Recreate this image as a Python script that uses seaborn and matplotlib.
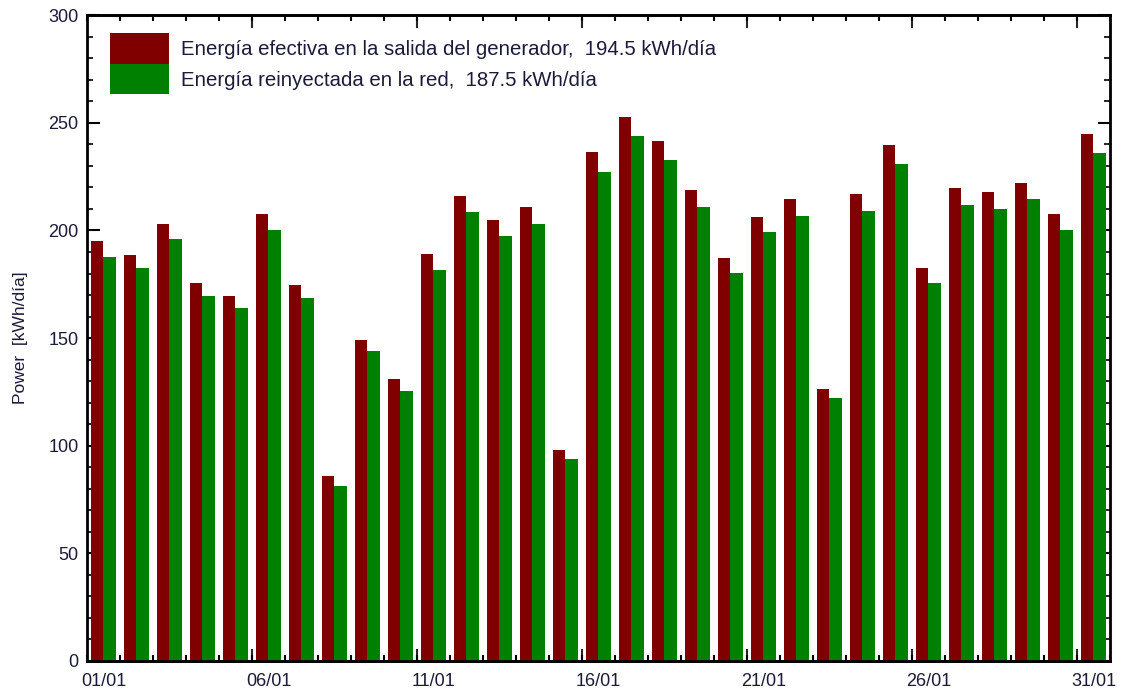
import numpy as np
import pandas as pd
import matplotlib
matplotlib.use('Agg')
import matplotlib.pyplot as plt
import seaborn as sns

# daily energy values (kWh/día)
days = ['%02d/01' % d for d in range(1, 32)]
energia_generador = [195.0, 188.5, 203.0, 175.5, 169.5, 207.6, 174.6, 85.9, 149.0, 131.0,
                     189.0, 216.0, 204.8, 210.8, 98.0, 236.4, 252.6, 241.5, 218.7, 187.2,
                     206.2, 214.5, 126.3, 216.9, 239.6, 182.5, 219.7, 217.8, 222.0, 207.6, 245.0]
energia_red = [187.6, 182.5, 196.0, 169.5, 164.0, 200.2, 168.6, 81.3, 144.0, 125.4,
               181.6, 208.5, 197.4, 203.0, 93.8, 227.0, 243.8, 232.7, 210.8, 180.2,
               199.2, 206.7, 122.1, 209.0, 230.8, 175.5, 211.8, 209.9, 214.5, 200.2, 236.2]
label_gen = 'Energía efectiva en la salida del generador,  194.5 kWh/día'
label_red = 'Energía reinyectada en la red,  187.5 kWh/día'
series_colors = ['#800000', '#008000']
label_days = [0, 5, 10, 15, 20, 25, 30]

df = pd.DataFrame({
    'day': days * 2,
    'value': energia_generador + energia_red,
    'series': [label_gen] * len(days) + [label_red] * len(days),
})

sns.set_style('white')
plt.rcParams['font.family'] = ['Liberation Sans', 'DejaVu Sans']

fig = plt.figure(figsize=(11.28, 6.93), dpi=100)
ax = fig.add_axes([0.0771, 0.0462, 0.9069, 0.9318])

sns.barplot(data=df, x='day', y='value', hue='series', palette=series_colors,
            width=0.76, saturation=1, linewidth=0, dodge=True, ax=ax)

ax.set_xlim(-0.5, 30.5)
ax.set_ylim(0, 300)

# labels at day centres, tick marks on day boundaries
ax.set_xticks(label_days, [days[i] for i in label_days])
ax.set_xticks(np.arange(-0.5, 31, 1), minor=True)
ax.tick_params(axis='x', which='major', length=0, pad=9, labelsize=13, colors='#1a1a3a')
ax.tick_params(axis='x', which='minor', direction='in', length=4, width=1.5,
               top=True, bottom=True, color='black')
ax.set_yticks(np.arange(0, 301, 50))
ax.set_yticks(np.arange(0, 301, 10), minor=True)
ax.tick_params(axis='y', which='major', direction='in', length=9, width=1.5,
               left=True, right=True, labelsize=13, pad=6, colors='black')
ax.tick_params(axis='y', which='minor', direction='in', length=4, width=1.2,
               left=True, right=True, color='black')
for t in ax.get_yticklabels():
    t.set_color('#1a1a3a')

for side in ['bottom', 'top']:
    sec = ax.secondary_xaxis(side)
    sec.set_xticks(np.arange(4.5, 31, 5))
    sec.tick_params(direction='in', length=9, width=1.5, labelbottom=False, labeltop=False)
    sec.spines[side].set_linewidth(2)

for s in ax.spines.values():
    s.set_linewidth(2)
    s.set_color('black')

ax.set_xlabel('')
ax.set_ylabel('Power  [kWh/día]', fontsize=12.5, color='#1a1a3a')
ax.yaxis.set_label_coords(-0.058, 0.5)

ax.legend(loc='upper left', bbox_to_anchor=(0.0225, 0.972), frameon=False, fontsize=14.7,
          handlelength=2.9, handleheight=1.92, labelspacing=0, handletextpad=0.6,
          borderaxespad=0, borderpad=0)
for t in ax.get_legend().get_texts():
    t.set_color('#1a1a3a')

fig.savefig('out.png', dpi=100)
